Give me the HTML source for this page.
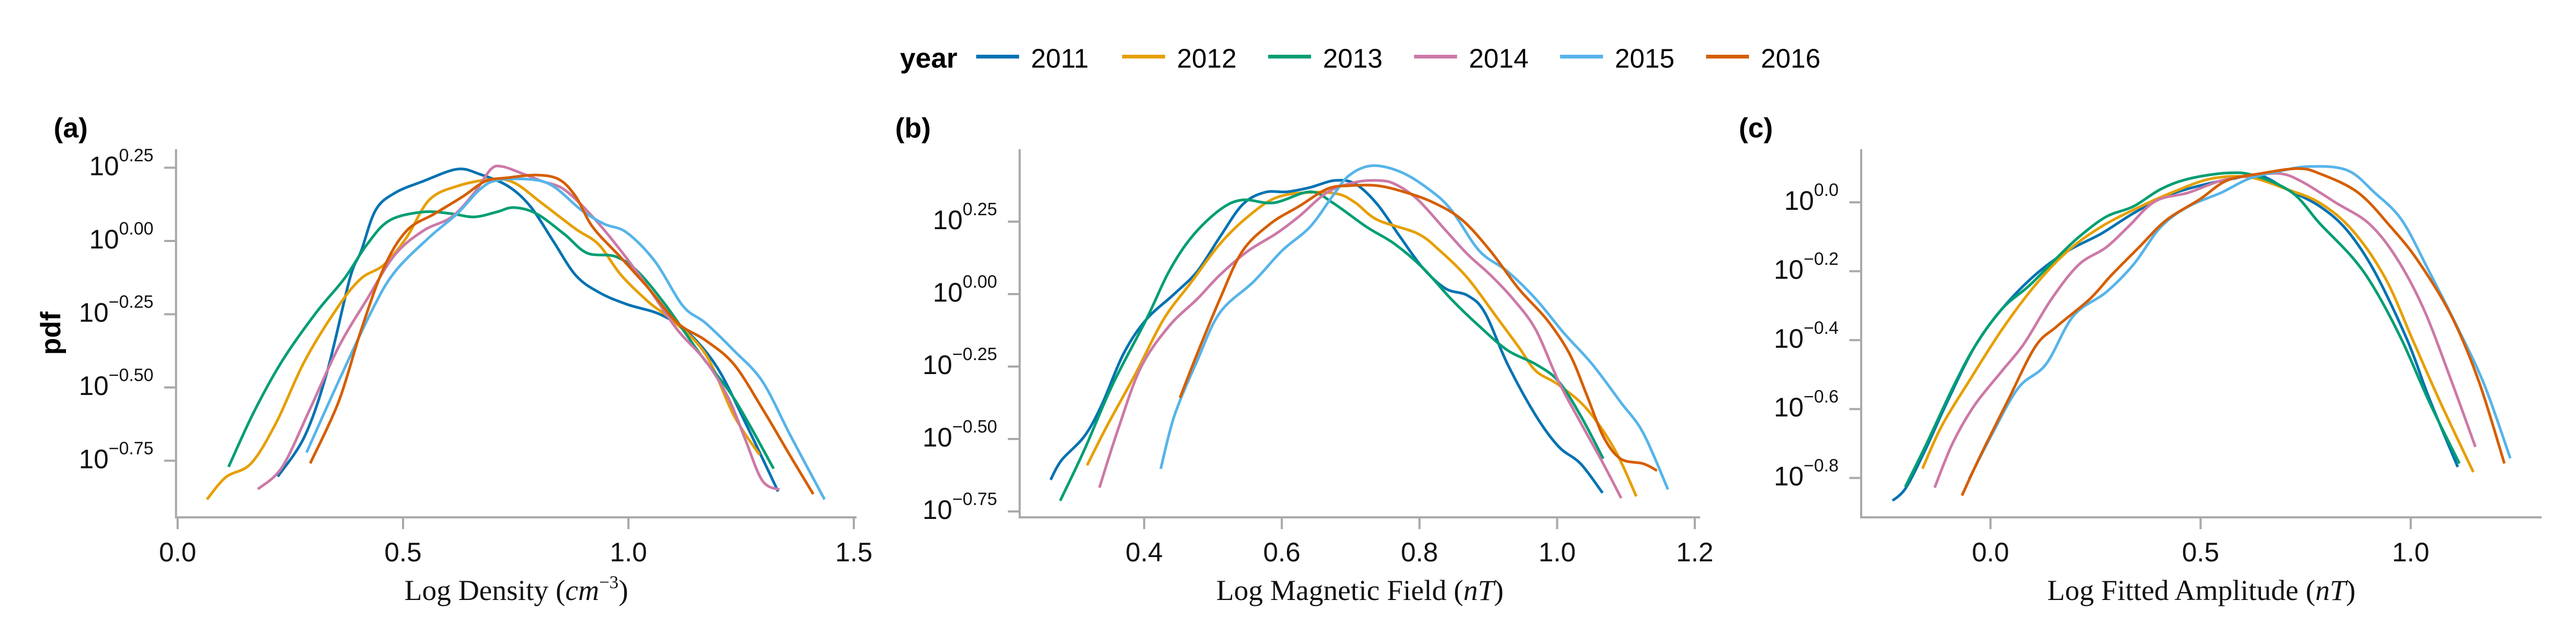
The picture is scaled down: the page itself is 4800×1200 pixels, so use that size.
<!DOCTYPE html>
<html><head><meta charset="utf-8">
<style>
html,body{margin:0;padding:0;background:#fff;}
svg{display:block;}
text{font-family:"Liberation Sans",sans-serif;}
text.serif{font-family:"Liberation Serif",serif;}
</style></head>
<body>
<svg id="chart" width="4800" height="1200" viewBox="0 0 4800 1200" xmlns="http://www.w3.org/2000/svg">
<g id="legend"></g>
<g id="pa"></g>
<g id="pb"></g>
<g id="pc"></g>
</svg>
<script>
const years = ["2011","2012","2013","2014","2015","2016"];
const colors = ["#0072B2","#E69F00","#009E73","#CC79A7","#56B4E9","#D55E00"];

// Panel (a) Log Density
const aX2011=[.222,.282,.332,.382,.407,.439,.482,.545,.620,.670,.733,.783,.833,.883,.934,.996,1.071,1.134,1.197,1.259,1.332];
const aY2011=[-.804,-.666,-.444,-.128,-.035,.105,.164,.204,.245,.228,.187,.117,0,-.117,-.175,-.216,-.251,-.315,-.432,-.619,-.855];
const aX2012=[.065,.107,.163,.219,.282,.357,.407,.457,.508,.558,.620,.695,.746,.808,.883,.934,.984,1.046,1.096,1.171,1.234,1.291];
const aY2012=[-.882,-.806,-.759,-.619,-.409,-.222,-.128,-.082,.012,.140,.187,.210,.199,.129,.041,-.012,-.117,-.210,-.269,-.386,-.596,-.730];
const aX2013=[.113,.169,.232,.307,.370,.420,.470,.545,.608,.658,.708,.746,.796,.858,.908,.971,1.021,1.084,1.159,1.234,1.322];
const aY2013=[-.771,-.584,-.409,-.245,-.128,-.012,.070,.099,.093,.082,.099,.114,.093,.023,-.041,-.053,-.105,-.222,-.386,-.537,-.777];
const aX2014=[.178,.232,.294,.357,.420,.482,.545,.608,.658,.695,.720,.758,.808,.858,.921,.984,1.046,1.109,1.171,1.222,1.259,1.297,1.335];
const aY2014=[-.847,-.771,-.572,-.362,-.199,-.047,.035,.082,.164,.245,.254,.234,.204,.175,.082,-.035,-.164,-.304,-.409,-.537,-.677,-.818,-.849];
const aX2015=[.286,.357,.432,.482,.558,.620,.670,.708,.783,.833,.896,.946,.996,1.059,1.121,1.171,1.234,1.297,1.360,1.435];
const aY2015=[-.722,-.479,-.234,-.105,.012,.093,.175,.207,.210,.187,.105,.058,.029,-.070,-.222,-.280,-.374,-.479,-.666,-.882];
const aX2016=[.294,.357,.407,.457,.508,.570,.633,.683,.733,.796,.846,.883,.921,.984,1.046,1.109,1.171,1.234,1.297,1.360,1.410];
const aY2016=[-.759,-.549,-.304,-.093,.035,.093,.152,.204,.216,.225,.210,.152,.047,-.058,-.164,-.280,-.339,-.421,-.572,-.736,-.864];

// Panel (b) Log Magnetic Field
const bX2011=[.264,.280,.313,.338,.370,.403,.444,.477,.510,.543,.575,.608,.641,.677,.707,.739,.772,.805,.838,.870,.895,.928,.969,1.002,1.034,1.066];
const bY2011=[-.641,-.573,-.491,-.384,-.206,-.088,.001,.078,.197,.309,.351,.353,.368,.392,.380,.309,.197,.090,.019,-.005,-.064,-.242,-.419,-.526,-.585,-.686];
const bX2012=[.317,.346,.387,.428,.469,.510,.551,.592,.641,.682,.707,.739,.797,.830,.870,.911,.944,.969,1.002,1.043,1.084,1.115];
const bY2012=[-.591,-.455,-.277,-.088,.043,.173,.268,.333,.351,.345,.315,.256,.209,.149,.055,-.076,-.182,-.265,-.313,-.396,-.538,-.698];
const bX2013=[.278,.313,.354,.403,.436,.469,.510,.543,.588,.641,.674,.723,.764,.805,.846,.887,.928,.969,1.002,1.034,1.067];
const bY2013=[-.713,-.538,-.313,-.088,.078,.197,.291,.325,.315,.353,.315,.232,.173,.090,-.017,-.111,-.194,-.242,-.301,-.419,-.568];
const bX2014=[.335,.362,.395,.436,.477,.510,.551,.592,.625,.666,.707,.740,.764,.797,.838,.870,.903,.936,.969,1.002,1.034,1.067,1.093];
const bY2014=[-.668,-.467,-.254,-.111,-.017,.066,.149,.209,.268,.351,.386,.392,.380,.327,.220,.137,.066,-.017,-.123,-.301,-.443,-.585,-.704];
const bX2015=[.424,.444,.477,.510,.559,.600,.641,.674,.698,.731,.772,.813,.846,.887,.928,.969,1.010,1.051,1.092,1.125,1.161];
const bY2015=[-.603,-.419,-.230,-.064,.043,.149,.232,.339,.410,.443,.422,.363,.291,.149,.078,-.017,-.135,-.242,-.372,-.479,-.674];
const bX2016=[.452,.477,.510,.543,.584,.625,.666,.698,.739,.780,.821,.862,.903,.944,.985,1.018,1.043,1.067,1.092,1.125,1.145];
const bY2016=[-.358,-.206,-.017,.149,.244,.303,.363,.374,.374,.351,.315,.256,.149,.019,-.088,-.206,-.348,-.491,-.568,-.585,-.609];

// Panel (c) Log Fitted Amplitude
const cX2011=[-.233,-.201,-.155,-.103,-.038,.027,.106,.184,.262,.340,.418,.497,.575,.640,.705,.784,.849,.914,.992,1.044,1.112];
const cY2011=[-.866,-.828,-.718,-.579,-.420,-.310,-.211,-.141,-.092,-.032,.018,.048,.068,.078,.038,-.012,-.082,-.201,-.400,-.569,-.768];
const cX2012=[-.162,-.116,-.051,.027,.106,.184,.262,.340,.431,.523,.614,.705,.784,.862,.940,1.005,1.070,1.149];
const cY2012=[-.773,-.649,-.519,-.370,-.241,-.141,-.072,-.022,.028,.068,.073,.038,-.002,-.082,-.221,-.400,-.579,-.783];
const cX2013=[-.203,-.155,-.090,-.038,.027,.093,.158,.210,.275,.340,.405,.471,.562,.627,.718,.784,.862,.914,.979,1.044,1.116];
const cY2013=[-.826,-.708,-.539,-.420,-.310,-.241,-.161,-.101,-.042,-.012,.038,.068,.085,.078,.028,-.062,-.161,-.251,-.400,-.579,-.758];
const cX2014=[-.133,-.090,-.038,.027,.080,.145,.210,.275,.327,.392,.471,.549,.627,.692,.744,.823,.901,.966,1.031,1.097,1.154];
const cY2014=[-.828,-.699,-.589,-.490,-.410,-.281,-.181,-.131,-.072,.003,.028,.063,.078,.083,.058,-.002,-.062,-.161,-.310,-.519,-.710];
const cX2015=[-.051,.001,.066,.132,.197,.275,.340,.405,.471,.549,.614,.679,.757,.849,.914,.979,1.044,1.110,1.175,1.237];
const cY2015=[-.803,-.679,-.539,-.470,-.330,-.261,-.181,-.072,-.012,.028,.068,.088,.104,.093,.028,-.052,-.201,-.360,-.529,-.743];
const cX2016=[-.068,-.025,.040,.106,.158,.236,.288,.353,.418,.497,.562,.640,.731,.784,.875,.953,1.018,1.097,1.162,1.223];
const cY2016=[-.851,-.738,-.579,-.420,-.360,-.281,-.211,-.131,-.052,.008,.063,.083,.098,.083,.028,-.072,-.171,-.330,-.519,-.758];

const aTicksX=[0,0.5,1.0,1.5], aTickXLabels=["0.0","0.5","1.0","1.5"];
const aTicksY=[0.25,0,-0.25,-0.5,-0.75], aTickYLabels=["0.25","0.00","\u22120.25","\u22120.50","\u22120.75"];
const bTicksX=[0.4,0.6,0.8,1.0,1.2], bTickXLabels=["0.4","0.6","0.8","1.0","1.2"];
const bTicksY=[0.25,0,-0.25,-0.5,-0.75], bTickYLabels=["0.25","0.00","\u22120.25","\u22120.50","\u22120.75"];
const cTicksX=[0,0.5,1.0], cTickXLabels=["0.0","0.5","1.0"];
const cTicksY=[0,-0.2,-0.4,-0.6,-0.8], cTickYLabels=["0.0","\u22120.2","\u22120.4","\u22120.6","\u22120.8"];

const NS="http://www.w3.org/2000/svg";
function mk(tag,attrs,parent){const e=document.createElementNS(NS,tag);for(const k in attrs)e.setAttribute(k,attrs[k]);parent.appendChild(e);return e;}
function smooth(pts){
  let d="M"+pts[0][0].toFixed(1)+","+pts[0][1].toFixed(1);
  for(let i=0;i<pts.length-1;i++){
    const p0=pts[Math.max(0,i-1)],p1=pts[i],p2=pts[i+1],p3=pts[Math.min(pts.length-1,i+2)];
    const c1x=p1[0]+(p2[0]-p0[0])/6,c1y=p1[1]+(p2[1]-p0[1])/6;
    const c2x=p2[0]-(p3[0]-p1[0])/6,c2y=p2[1]-(p3[1]-p1[1])/6;
    d+=" C"+c1x.toFixed(1)+","+c1y.toFixed(1)+" "+c2x.toFixed(1)+","+c2y.toFixed(1)+" "+p2[0].toFixed(1)+","+p2[1].toFixed(1);
  }
  return d;
}

function panel(g,cfg){
  const sx=v=>cfg.x0+cfg.kx*(v-cfg.vx0);
  const sy=v=>cfg.y0-cfg.ky*v;
  const L=mk("text",{x:cfg.lx,y:256,"font-size":52,"font-weight":"bold"},g);
  
  
  L.textContent=cfg.label;
  const yl=mk("line",{x1:cfg.ax,y1:278,x2:cfg.ax,y2:966,stroke:"#aaa","stroke-width":4},g);
  
  
  const xl=mk("line",{x1:cfg.ax-2,y1:964,x2:cfg.axEnd,y2:964,stroke:"#aaa","stroke-width":4},g);
  
  
  cfg.tx.forEach((v,i)=>{
    const x=sx(v);
    const t=mk("line",{x1:x,y1:964,x2:x,y2:986,stroke:"#aaa","stroke-width":4},g);
    
    
    const tl=mk("text",{x:x,y:1046,"font-size":50,"text-anchor":"middle",fill:"#111"},g);
    
    
    tl.textContent=cfg.txl[i];
  });
  cfg.ty.forEach((v,i)=>{
    const y=sy(v);
    const t=mk("line",{x1:cfg.ax-22,y1:y,x2:cfg.ax,y2:y,stroke:"#aaa","stroke-width":4},g);
    
    
    const tl=mk("text",{x:cfg.ax-42,y:y+14,"font-size":50,"text-anchor":"end",fill:"#111"},g);
    
    
    const a=mk("tspan",{},tl);a.textContent="10";
    const b=mk("tspan",{"font-size":33,dy:-26},tl);b.textContent=cfg.tyl[i];
  });
  const xt=mk("text",{x:(cfg.ax+cfg.axEnd)/2,y:1118,"font-size":54,"text-anchor":"middle",fill:"#111","class":"serif"},g);
  
  
  xt.innerHTML=cfg.title;
  cfg.series.forEach((s,k)=>{
    const pts=s[0].map((v,i)=>[sx(v),sy(s[1][i])]);
    const p=mk("path",{d:smooth(pts),fill:"none",stroke:colors[k],"stroke-width":5,"stroke-linejoin":"round"},g);
    
    
  });
}

panel(document.getElementById("pa"),{label:"(a)",lx:100,ax:328,axEnd:1596,x0:331,kx:840,vx0:0,y0:449,ky:546,
  tx:aTicksX,txl:aTickXLabels,ty:aTicksY,tyl:aTickYLabels,
  title:'Log Density (<tspan font-style="italic">cm</tspan><tspan font-size="34" dy="-22">\u22123</tspan><tspan dy="22">)</tspan>',
  series:[[aX2011,aY2011],[aX2012,aY2012],[aX2013,aY2013],[aX2014,aY2014],[aX2015,aY2015],[aX2016,aY2016]]});
panel(document.getElementById("pb"),{label:"(b)",lx:1668,ax:1900,axEnd:3168,x0:2132,kx:1282.5,vx0:0.4,y0:548,ky:540,
  tx:bTicksX,txl:bTickXLabels,ty:bTicksY,tyl:bTickYLabels,
  title:'Log Magnetic Field (<tspan font-style="italic">nT</tspan>)',
  series:[[bX2011,bY2011],[bX2012,bY2012],[bX2013,bY2013],[bX2014,bY2014],[bX2015,bY2015],[bX2016,bY2016]]});
panel(document.getElementById("pc"),{label:"(c)",lx:3240,ax:3468,axEnd:4736,x0:3709,kx:783,vx0:0,y0:377,ky:642,
  tx:cTicksX,txl:cTickXLabels,ty:cTicksY,tyl:cTickYLabels,
  title:'Log Fitted Amplitude (<tspan font-style="italic">nT</tspan>)',
  series:[[cX2011,cY2011],[cX2012,cY2012],[cX2013,cY2013],[cX2014,cY2014],[cX2015,cY2015],[cX2016,cY2016]]});

// pdf y-axis title
const pdf=mk("text",{x:0,y:0,"font-size":52,"font-weight":"bold","text-anchor":"middle",transform:"translate(112,621) rotate(-90)"},document.getElementById("pa"));


pdf.textContent="pdf";

// legend
const lg=document.getElementById("legend");
const yt=mk("text",{x:1677,y:126,"font-size":52,"font-weight":"bold"},lg);


yt.textContent="year";
years.forEach((y,i)=>{
  const x=1819+272*i;
  const gi=mk("g",{},lg);
  
  
  mk("rect",{x:x,y:102,width:80,height:7,fill:colors[i]},gi);
  const t=mk("text",{x:x+102,y:126,"font-size":50},gi);
  t.textContent=y;
});
</script>
</body></html>
